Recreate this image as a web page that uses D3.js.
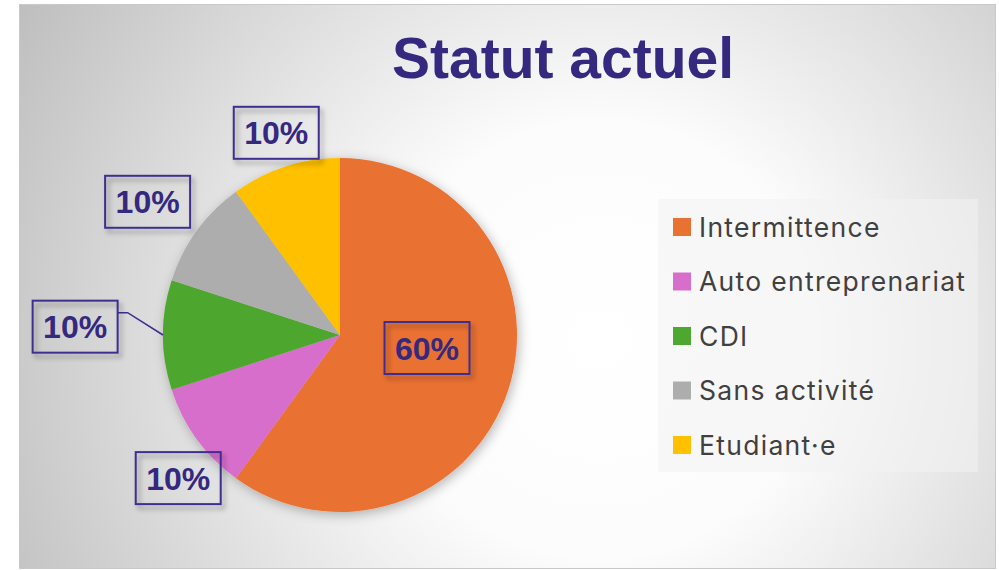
<!DOCTYPE html>
<html>
<head>
<meta charset="utf-8">
<script src="https://cdn.jsdelivr.net/npm/d3@7"></script>
<style>
  html, body { margin: 0; padding: 0; background: #ffffff; }
  svg { display: block; }
</style>
</head>
<body>
<svg id="chart" width="999" height="570"></svg>
<script>
// Répartition par statut actuel
const categories = ["Intermittence", "Auto entreprenariat", "CDI", "Sans activité", "Etudiant·e"];
const values = [60, 10, 10, 10, 10];
const colors = ["#E97132", "#D86ECC", "#4EA72E", "#ADADAD", "#FFC000"];
const title = "Statut actuel";

// Placement of each data label: distance from the centre and an angle nudge (degrees)
const labelRadius = [88, 216, 265, 234, 212];
const labelNudge = [-9.5, -5.5, 1.8, -1.3, 0.5];
const leaderLine = [false, false, true, false, false];

const W = 999, H = 570;
const svg = d3.select("#chart");
const defs = svg.append("defs");

// Background: radial grey-to-white fill of the chart area
const bg = defs.append("radialGradient")
  .attr("id", "bg").attr("gradientUnits", "userSpaceOnUse")
  .attr("cx", 600).attr("cy", 340).attr("r", 680);
bg.append("stop").attr("offset", "0").attr("stop-color", "#ffffff");
bg.append("stop").attr("offset", "0.32").attr("stop-color", "#fcfcfc");
bg.append("stop").attr("offset", "1").attr("stop-color", "#bdbdbd");

const pieShadow = defs.append("filter").attr("id", "pieShadow")
  .attr("x", "-20%").attr("y", "-20%").attr("width", "140%").attr("height", "140%");
pieShadow.append("feDropShadow").attr("dx", 2).attr("dy", 3)
  .attr("stdDeviation", 6).attr("flood-color", "#000").attr("flood-opacity", 0.28);

const boxShadow = defs.append("filter").attr("id", "boxShadow")
  .attr("x", "-30%").attr("y", "-30%").attr("width", "160%").attr("height", "160%");
boxShadow.append("feDropShadow").attr("dx", 3).attr("dy", 4)
  .attr("stdDeviation", 2.5).attr("flood-color", "#000").attr("flood-opacity", 0.35);

// Chart area
const area = { x: 19.5, y: 4.5, w: 976, h: 564 };
svg.append("rect")
  .attr("x", area.x).attr("y", area.y).attr("width", area.w).attr("height", area.h)
  .attr("fill", "url(#bg)").attr("stroke", "#c9c9c9").attr("stroke-width", 1);

// Title
svg.append("text")
  .attr("x", 563).attr("y", 78)
  .attr("text-anchor", "middle")
  .attr("font-family", "'Liberation Sans', Arial, sans-serif")
  .attr("font-weight", "bold").attr("font-size", 57)
  .attr("fill", "#35287f")
  .text(title);

// Pie
const cx = 340, cy = 335, R = 177;
const data = categories.map((c, i) => ({ name: c, value: values[i], color: colors[i], i }));
const pie = d3.pie().sort(null).value(d => d.value).startAngle(0).endAngle(2 * Math.PI);
const arcs = pie(data);
const arc = d3.arc().innerRadius(0).outerRadius(R);
const total = d3.sum(values);
const fmt = d3.format(".0%");

const g = svg.append("g").attr("transform", `translate(${cx},${cy})`);
g.append("g").attr("filter", "url(#pieShadow)")
  .selectAll("path").data(arcs).join("path")
  .attr("d", arc)
  .attr("fill", d => d.data.color);

// Data labels
const boxW = 85, boxH = 52;
const labels = g.append("g").selectAll("g").data(arcs).join("g")
  .attr("transform", d => {
    const a = (d.startAngle + d.endAngle) / 2 + labelNudge[d.data.i] * Math.PI / 180;
    const r = labelRadius[d.data.i];
    return `translate(${r * Math.sin(a)},${-r * Math.cos(a)})`;
  });

// Leader lines for labels placed away from their slice
labels.filter(d => leaderLine[d.data.i]).each(function(d) {
  const a = (d.startAngle + d.endAngle) / 2;
  const r = labelRadius[d.data.i];
  const la = a + labelNudge[d.data.i] * Math.PI / 180;
  const lx = r * Math.sin(la), ly = -r * Math.cos(la);
  const ex = R * Math.sin(a) - lx, ey = -R * Math.cos(a) - ly;
  const sx = boxW / 2, sy = -boxH / 2 + 12;
  d3.select(this).append("path")
    .attr("d", `M${sx},${sy}H${sx + 10}L${ex},${ey}`)
    .attr("fill", "none").attr("stroke", "#3c2f8f").attr("stroke-width", 1.6);
});

labels.append("rect")
  .attr("x", -boxW / 2).attr("y", -boxH / 2)
  .attr("width", boxW).attr("height", boxH)
  .attr("fill", "none").attr("stroke", "#3c2f8f").attr("stroke-width", 2)
  .attr("filter", "url(#boxShadow)");

labels.append("text")
  .attr("text-anchor", "middle").attr("y", 11.5)
  .attr("font-family", "'Liberation Sans', Arial, sans-serif")
  .attr("font-weight", "bold").attr("font-size", 32)
  .attr("fill", "#35287f")
  .text(d => fmt(d.data.value / total));

// Legend
const legend = svg.append("g");
legend.append("rect")
  .attr("x", 658).attr("y", 199).attr("width", 320).attr("height", 273)
  .attr("fill", "#f2f2f2").attr("fill-opacity", 0.55);

const items = legend.selectAll("g.item").data(data).join("g")
  .attr("class", "item")
  .attr("transform", (d, i) => `translate(673,${227 + i * 54.5})`);
items.append("rect")
  .attr("x", 0).attr("y", -9).attr("width", 18).attr("height", 18)
  .attr("fill", d => d.color);
items.append("text")
  .attr("x", 26).attr("y", 9.5)
  .attr("font-family", "Inter, 'Noto Sans', sans-serif")
  .attr("font-size", 26.5)
  .attr("letter-spacing", 1.3)
  .attr("fill", "#404040")
  .text(d => d.name);
</script>
</body>
</html>
